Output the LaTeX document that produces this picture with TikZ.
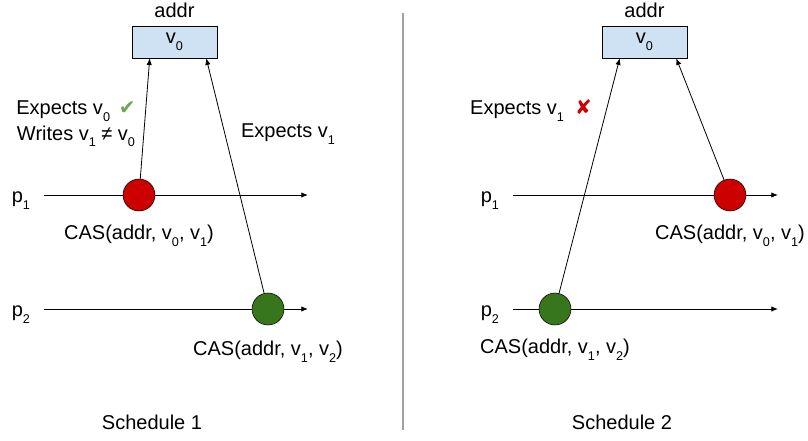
\documentclass[tikz,border=0pt]{standalone}
\usepackage{fontspec}
\setmainfont{Liberation Sans}
\newfontfamily\symfont{DejaVu Sans}
\usetikzlibrary{arrows.meta,positioning}
\definecolor{CellBlue}{HTML}{CFE2F3}
\definecolor{CasRed}{HTML}{CC0000}
\definecolor{CasGreen}{HTML}{38761D}
\definecolor{OkGreen}{HTML}{6AA84F}
\definecolor{RuleGray}{HTML}{A0A0A0}
\newcommand{\sub}[1]{\raisebox{-0.65ex}{\fontsize{9.5}{9.5}\selectfont #1}}

\begin{document}
\begin{tikzpicture}[
  x=0.75pt,y=-0.75pt,
  every node/.style={font=\fontsize{15}{19}\selectfont},
  cell/.style={draw,fill=CellBlue,minimum width=63.75pt,
    minimum height=24pt,inner sep=0pt},
  op/.style={circle,draw,minimum size=24pt,inner sep=0pt},
  arr/.style={-{Latex[length=5pt,width=4pt]},line width=0.6pt}
]
  \useasboundingbox (0,0) rectangle (808,440);

  % Schedule 1
  \node[cell] (box1) at (174.5,42) {v\sub{0}};
  \node (addr1) at (174.5,10) {addr};
  \coordinate (s11) at (44,195);
  \coordinate (e11) at (308,195);
  \coordinate (s12) at (44,309);
  \coordinate (e12) at (308,309);
  \draw[arr] (s11) -- (e11);
  \draw[arr] (s12) -- (e12);
  \node[left=7pt of s11,yshift=-4pt] (p11) {p\sub{1}};
  \node[left=7pt of s12,yshift=-4pt] (p12) {p\sub{2}};
  \node[op,fill=CasRed] (cas11) at (139,195) {};
  \node[op,fill=CasGreen] (cas12) at (268,309) {};
  \node[below=7pt of cas11] (lbl11) {CAS(addr, v\sub{0}, v\sub{1})};
  \node[below=8pt of cas12] (lbl12) {CAS(addr, v\sub{1}, v\sub{2})};
  \draw[arr] (cas11) -- ([xshift=13.5pt]box1.south west);
  \draw[arr] (cas12) -- ([xshift=-8.25pt]box1.south east);
  \node[align=center] (exp11) at (76,124)
    {Expects v\sub{0}\, {\symfont\color{OkGreen}✔}\\Writes v\sub{1} ≠ v\sub{0}};
  \node (exp12) at (288,134) {Expects v\sub{1}};
  \node (sched1) at (152,422) {Schedule 1};

  \draw[RuleGray,line width=0.8pt] (403,13) -- (403,430);

  % Schedule 2
  \node[cell] (box2) at (644.5,42) {v\sub{0}};
  \node (addr2) at (644.5,10) {addr};
  \coordinate (s21) at (513,195);
  \coordinate (e21) at (778,195);
  \coordinate (s22) at (513,309);
  \coordinate (e22) at (778,309);
  \draw[arr] (s21) -- (e21);
  \draw[arr] (s22) -- (e22);
  \node[left=7pt of s21,yshift=-4pt] (p21) {p\sub{1}};
  \node[left=7pt of s22,yshift=-4pt] (p22) {p\sub{2}};
  \node[op,fill=CasRed] (cas21) at (730,195) {};
  \node[op,fill=CasGreen] (cas22) at (555,309) {};
  \node[below=7pt of cas21] (lbl21) {CAS(addr, v\sub{0}, v\sub{1})};
  \node[below=7pt of cas22] (lbl22) {CAS(addr, v\sub{1}, v\sub{2})};
  \draw[arr] (cas22) -- ([xshift=13.5pt]box2.south west);
  \draw[arr] (cas21) -- ([xshift=-8.25pt]box2.south east);
  \node (exp21) at (531,111) {Expects v\sub{1}\; {\symfont\color{CasRed}✘}};
  \node (sched2) at (622,422) {Schedule 2};
\end{tikzpicture}
\end{document}
